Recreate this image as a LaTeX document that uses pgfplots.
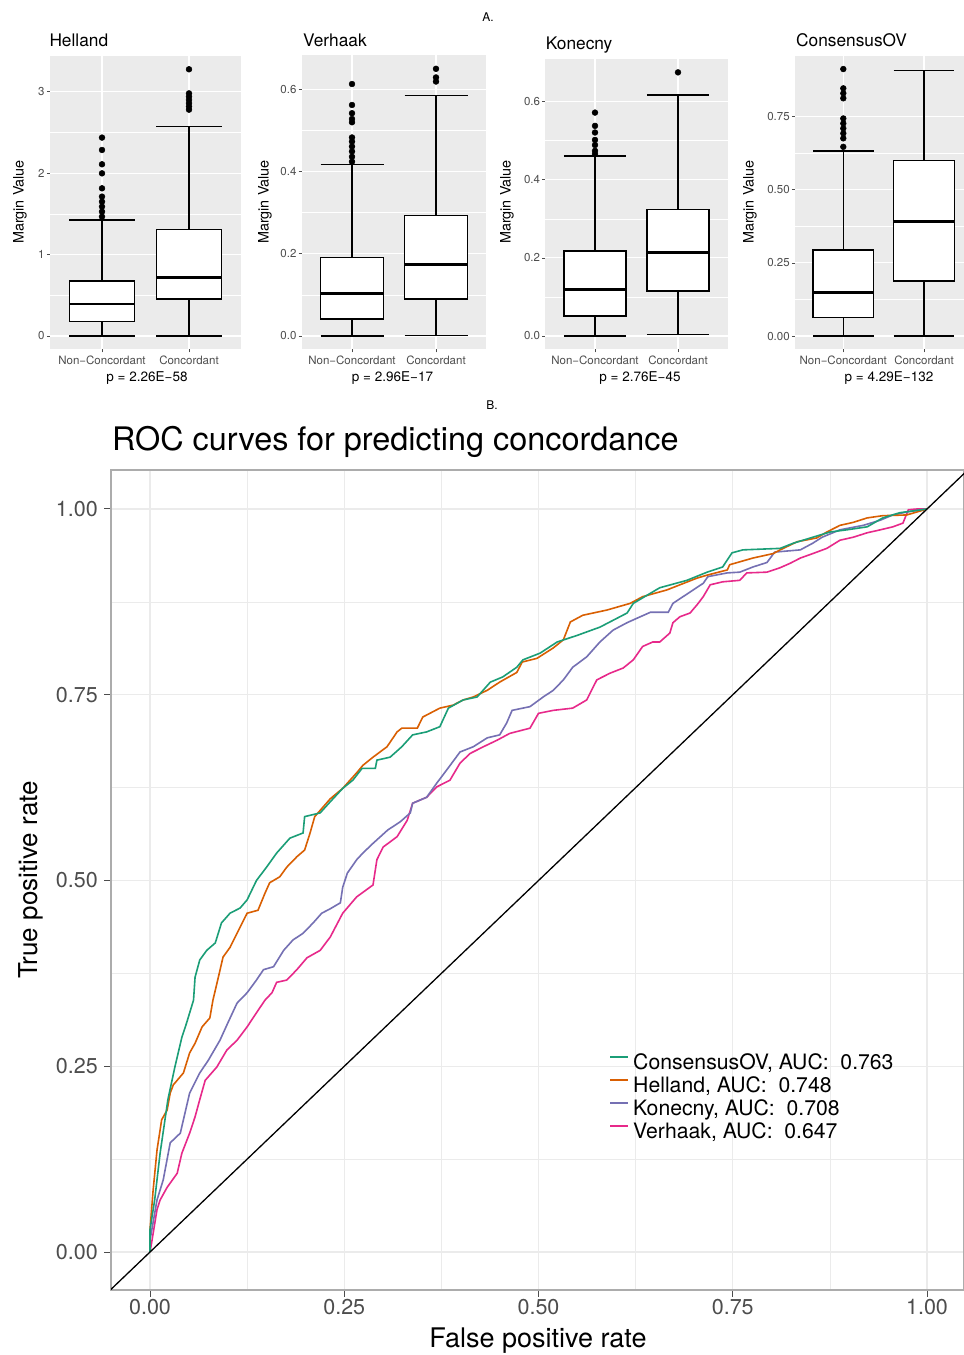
\documentclass[border=0pt]{standalone}
\usepackage{pgfplots}
\usepackage{pgfplotstable}
\pgfplotsset{compat=1.18}
\usepgfplotslibrary{statistics}
\usepackage{fontspec}
\setmainfont{TeX Gyre Heros}
\definecolor{colOV}{HTML}{1B9E77}
\definecolor{colHel}{HTML}{D95F02}
\definecolor{colKon}{HTML}{7570B3}
\definecolor{colVer}{HTML}{E7298A}
\definecolor{gpanel}{HTML}{EBEBEB}
\definecolor{gtext}{HTML}{4D4D4D}
\definecolor{ggrid}{HTML}{EBEBEB}

\pgfplotstableread{
x y
0 0
0.000 0.030
0.006 0.070
0.013 0.133
0.023 0.205
0.032 0.249
0.041 0.289
0.047 0.308
0.056 0.339
0.058 0.370
0.064 0.393
0.073 0.406
0.084 0.416
0.092 0.443
0.103 0.456
0.116 0.463
0.125 0.474
0.137 0.500
0.150 0.518
0.163 0.537
0.180 0.557
0.197 0.564
0.199 0.586
0.219 0.591
0.232 0.606
0.248 0.624
0.261 0.635
0.273 0.651
0.290 0.651
0.292 0.662
0.309 0.666
0.324 0.680
0.338 0.696
0.356 0.700
0.373 0.707
0.384 0.732
0.403 0.743
0.421 0.747
0.438 0.767
0.454 0.774
0.472 0.787
0.480 0.797
0.502 0.806
0.524 0.821
0.550 0.830
0.579 0.841
0.614 0.860
0.622 0.873
0.656 0.894
0.691 0.904
0.717 0.915
0.737 0.922
0.749 0.941
0.763 0.945
0.811 0.947
0.828 0.954
0.853 0.962
0.875 0.969
0.897 0.972
0.923 0.976
0.943 0.988
0.965 0.995
1 1
}\tcons

\pgfplotstableread{
x y
0 0
0.000 0.030
0.004 0.083
0.009 0.137
0.015 0.178
0.022 0.191
0.026 0.214
0.030 0.225
0.043 0.241
0.051 0.268
0.058 0.281
0.067 0.303
0.077 0.315
0.081 0.339
0.088 0.370
0.094 0.397
0.103 0.410
0.112 0.429
0.125 0.456
0.139 0.460
0.148 0.483
0.154 0.497
0.167 0.505
0.176 0.518
0.189 0.532
0.199 0.541
0.206 0.564
0.212 0.586
0.232 0.610
0.248 0.624
0.266 0.645
0.274 0.655
0.287 0.666
0.305 0.680
0.318 0.700
0.324 0.705
0.344 0.705
0.351 0.720
0.373 0.732
0.390 0.736
0.403 0.743
0.416 0.747
0.434 0.756
0.450 0.767
0.472 0.780
0.479 0.794
0.498 0.799
0.519 0.813
0.532 0.824
0.541 0.848
0.557 0.857
0.588 0.864
0.618 0.873
0.634 0.882
0.665 0.891
0.704 0.907
0.717 0.911
0.743 0.918
0.746 0.925
0.776 0.934
0.802 0.940
0.811 0.945
0.833 0.956
0.858 0.961
0.871 0.969
0.888 0.978
0.905 0.982
0.923 0.988
0.943 0.991
0.974 0.992
1 1
}\thell

\pgfplotstableread{
x y
0 0
0.000 0.016
0.009 0.070
0.017 0.097
0.026 0.147
0.039 0.160
0.051 0.214
0.064 0.241
0.075 0.258
0.090 0.285
0.100 0.308
0.112 0.335
0.125 0.349
0.137 0.366
0.146 0.380
0.159 0.384
0.172 0.406
0.184 0.420
0.197 0.429
0.210 0.443
0.221 0.456
0.232 0.462
0.245 0.470
0.248 0.491
0.254 0.510
0.266 0.528
0.274 0.537
0.287 0.550
0.306 0.568
0.322 0.579
0.335 0.591
0.338 0.604
0.356 0.612
0.369 0.631
0.382 0.649
0.399 0.673
0.416 0.680
0.434 0.692
0.450 0.696
0.459 0.712
0.466 0.729
0.489 0.734
0.506 0.747
0.519 0.756
0.532 0.770
0.544 0.787
0.562 0.801
0.579 0.821
0.596 0.837
0.614 0.847
0.631 0.855
0.644 0.861
0.667 0.861
0.673 0.873
0.686 0.882
0.699 0.891
0.712 0.900
0.718 0.909
0.743 0.914
0.759 0.915
0.776 0.922
0.794 0.928
0.804 0.942
0.837 0.945
0.853 0.954
0.865 0.962
0.888 0.972
0.918 0.978
0.940 0.985
0.956 0.992
0.974 0.996
1 1
}\tkone

\pgfplotstableread{
x y
0 0
0.002 0.012
0.009 0.057
0.013 0.070
0.022 0.087
0.035 0.106
0.041 0.133
0.051 0.160
0.058 0.182
0.064 0.205
0.071 0.231
0.086 0.249
0.099 0.272
0.112 0.285
0.125 0.303
0.137 0.322
0.148 0.339
0.157 0.349
0.163 0.363
0.176 0.366
0.189 0.380
0.202 0.396
0.219 0.406
0.232 0.424
0.248 0.456
0.266 0.478
0.287 0.494
0.292 0.528
0.300 0.545
0.318 0.559
0.331 0.581
0.338 0.604
0.356 0.612
0.369 0.626
0.386 0.635
0.399 0.658
0.412 0.671
0.429 0.680
0.447 0.689
0.463 0.698
0.489 0.705
0.500 0.725
0.519 0.729
0.544 0.732
0.562 0.743
0.575 0.770
0.592 0.779
0.609 0.786
0.622 0.797
0.634 0.815
0.647 0.821
0.656 0.821
0.669 0.833
0.673 0.847
0.682 0.855
0.695 0.860
0.704 0.871
0.712 0.882
0.721 0.898
0.737 0.902
0.759 0.904
0.768 0.914
0.794 0.915
0.811 0.921
0.824 0.927
0.837 0.934
0.853 0.940
0.871 0.947
0.888 0.958
0.905 0.962
0.923 0.968
0.940 0.972
0.956 0.976
0.969 0.981
0.976 0.999
0.987 1.000
1 1
}\tverh

\pgfplotsset{
  boxpanel/.style={
    scale only axis,
    anchor=south west,
    xmin=0.4, xmax=2.6,
    xtick={1,2},
    xticklabels={Non−Concordant,Concordant},
    axis background/.style={fill=gpanel},
    axis line style={draw=none},
    grid=both,
    major grid style={white, line width=1.1pt},
    minor grid style={white, line width=0.55pt},
    minor y tick num=1,
    minor tick length=0pt,
    tick align=outside,
    major tick length=3pt,
    tick style={gtext, line width=0.7pt},
    xtick pos=left, ytick pos=left,
    ticklabel style={font=\fontsize{11.5}{13}\selectfont, text=gtext},
    yticklabel style={inner sep=2pt},
    xticklabel style={inner sep=3.5pt},
    /pgf/number format/assume math mode=true,
    boxplot/draw direction=y,
    boxplot/box extend=0.75,
    boxplot/whisker extend=0.75,
    boxplot/every median/.style={line width=2.8pt},
  },
  bx/.style={black, line width=1.3pt, fill=white, mark=*, mark size=2.9pt, mark options={fill=black, line width=0.5pt}},
}

\begin{document}
\begin{tikzpicture}
\fill[white] (0pt,0pt) rectangle (964pt,1355pt);
\path[use as bounding box] (0pt,0pt) rectangle (964pt,1355pt);

% ---------- Helland ----------
\begin{axis}[boxpanel, at={(49.8pt,1005.65pt)}, width=191.4pt, height=293.4pt,
  ymin=-0.164, ymax=3.44, ytick={0,1,2,3}]
\addplot[bx, boxplot prepared={draw position=1, lower whisker=0, lower quartile=0.176,
  median=0.393, upper quartile=0.676, upper whisker=1.425}]
  table[row sep=\\, y index=0] {data\\ 2.437\\ 2.285\\ 2.109\\ 1.998\\ 1.814\\ 1.712\\ 1.650\\ 1.589\\ 1.527\\ 1.466\\};
\addplot[bx, boxplot prepared={draw position=2, lower whisker=0, lower quartile=0.455,
  median=0.721, upper quartile=1.31, upper whisker=2.576}]
  table[row sep=\\, y index=0] {data\\ 3.276\\ 2.98\\ 2.94\\ 2.90\\ 2.86\\ 2.82\\ 2.78\\};
\end{axis}

% ---------- Verhaak ----------
\begin{axis}[boxpanel, at={(301.6pt,1005.64pt)}, width=184.8pt, height=293.9pt,
  ymin=-0.0325, ymax=0.6825, ytick={0,0.2,0.4,0.6},
  yticklabel style={/pgf/number format/.cd, fixed, fixed zerofill, precision=1}]
\addplot[bx, boxplot prepared={draw position=1, lower whisker=0, lower quartile=0.0414,
  median=0.104, upper quartile=0.191, upper whisker=0.417}]
  table[row sep=\\, y index=0] {data\\ 0.613\\ 0.562\\ 0.542\\ 0.528\\ 0.520\\ 0.483\\ 0.473\\ 0.461\\ 0.449\\ 0.436\\ 0.424\\};
\addplot[bx, boxplot prepared={draw position=2, lower whisker=0.002, lower quartile=0.090,
  median=0.174, upper quartile=0.293, upper whisker=0.585}]
  table[row sep=\\, y index=0] {data\\ 0.650\\ 0.629\\ 0.619\\};
\end{axis}

% ---------- Konecny ----------
\begin{axis}[boxpanel, at={(545.2pt,1005.7pt)}, width=182.6pt, height=290.2pt,
  ymin=-0.034, ymax=0.709, ytick={0,0.2,0.4,0.6},
  yticklabel style={/pgf/number format/.cd, fixed, fixed zerofill, precision=1}]
\addplot[bx, boxplot prepared={draw position=1, lower whisker=0, lower quartile=0.0512,
  median=0.119, upper quartile=0.218, upper whisker=0.461}]
  table[row sep=\\, y index=0] {data\\ 0.572\\ 0.538\\ 0.521\\ 0.502\\ 0.489\\ 0.474\\ 0.466\\};
\addplot[bx, boxplot prepared={draw position=2, lower whisker=0.004, lower quartile=0.115,
  median=0.214, upper quartile=0.324, upper whisker=0.617}]
  table[row sep=\\, y index=0] {data\\ 0.675\\};
\end{axis}

% ---------- ConsensusOV ----------
\begin{axis}[boxpanel, at={(794.9pt,1005.6pt)}, width=177.5pt, height=293.8pt,
  ymin=-0.0457, ymax=0.959, ytick={0,0.25,0.5,0.75},
  yticklabel style={/pgf/number format/.cd, fixed, fixed zerofill, precision=2}]
\addplot[bx, boxplot prepared={draw position=1, lower whisker=0, lower quartile=0.0638,
  median=0.149, upper quartile=0.294, upper whisker=0.633}]
  table[row sep=\\, y index=0] {data\\ 0.913\\ 0.847\\ 0.830\\ 0.813\\ 0.744\\ 0.727\\ 0.710\\ 0.693\\ 0.676\\ 0.647\\};
\addplot[bx, boxplot prepared={draw position=2, lower whisker=0, lower quartile=0.188,
  median=0.391, upper quartile=0.600, upper whisker=0.907}]
  coordinates {};
\end{axis}

% panel titles, labels
\node[anchor=base west, inner sep=0pt, font=\fontsize{17.3}{20}\selectfont] at (49.3pt,1308.3pt) {Helland};
\node[anchor=base west, inner sep=0pt, font=\fontsize{17.3}{20}\selectfont] at (303pt,1308.3pt) {Verhaak};
\node[anchor=base west, inner sep=0pt, font=\fontsize{17.3}{20}\selectfont] at (545.7pt,1305.7pt) {Konecny};
\node[anchor=base west, inner sep=0pt, font=\fontsize{17.3}{20}\selectfont] at (796pt,1308.3pt) {ConsensusOV};
\foreach \xx in {20,265,507,750}{
  \node[rotate=90, font=\fontsize{14.4}{17}\selectfont] at (\xx pt,1153pt) {Margin Value};
}
\node[font=\fontsize{13.5}{16}\selectfont] at (147pt,977pt) {p = 2.26E−58};
\node[font=\fontsize{13.5}{16}\selectfont] at (392.5pt,977pt) {p = 2.96E−17};
\node[font=\fontsize{13.5}{16}\selectfont] at (640pt,977pt) {p = 2.76E−45};
\node[font=\fontsize{13.5}{16}\selectfont] at (889pt,977pt) {p = 4.29E−132};
\node[font=\fontsize{12}{14}\selectfont] at (488pt,1337.5pt) {A.};
\node[font=\fontsize{12}{14}\selectfont] at (492pt,950pt) {B.};

% ---------- ROC ----------
\begin{axis}[scale only axis, anchor=south west, at={(111pt,65pt)},
  width=853pt, height=820pt,
  xmin=-0.0502, xmax=1.0476, ymin=-0.0511, ymax=1.0525,
  xtick={0,0.25,0.5,0.75,1}, ytick={0,0.25,0.5,0.75,1},
  minor tick num=1, minor tick length=0pt,
  grid=both,
  major grid style={ggrid, line width=1.1pt},
  minor grid style={ggrid, line width=0.55pt},
  axis line style={gray!65, line width=1.4pt},
  tick align=outside, major tick length=7pt,
  tick style={gtext, line width=1pt},
  xtick pos=left, ytick pos=left,
  ticklabel style={font=\fontsize{21.5}{25}\selectfont, text=gtext},
  /pgf/number format/.cd, fixed, fixed zerofill, precision=2, assume math mode=true,
  /pgfplots/.cd,
  yticklabel style={inner sep=2pt, xshift=-4pt},
  xticklabel style={inner sep=2pt},
  legend style={at={(0.585,0.2875)}, anchor=north west, draw=none, fill=none,
    font=\fontsize{21.2}{25}\selectfont, inner sep=0pt, row sep=2.3pt,
    nodes={inner sep=0pt, text height=15.5pt, text depth=5pt}},
  legend cell align=left,
  /tikz/every odd column/.append style={column sep=5pt},
  legend image code/.code={\fill[#1] (0pt,6.5pt) rectangle (18pt,8.5pt);},
]
\addplot[colVer, line width=1.6pt, forget plot] table[x=x, y=y] {\tverh};
\addplot[colKon, line width=1.6pt, forget plot] table[x=x, y=y] {\tkone};
\addplot[colHel, line width=1.6pt, forget plot] table[x=x, y=y] {\thell};
\addplot[colOV, line width=1.6pt, forget plot] table[x=x, y=y] {\tcons};
\addplot[black, line width=1.3pt, forget plot] coordinates {(-0.1,-0.1) (1.1,1.1)};
\addlegendimage{fill=colOV, draw=none}
\addlegendentry{ConsensusOV, AUC:\ \ 0.763}
\addlegendimage{fill=colHel, draw=none}
\addlegendentry{Helland, AUC:\ \ 0.748}
\addlegendimage{fill=colKon, draw=none}
\addlegendentry{Konecny, AUC:\ \ 0.708}
\addlegendimage{fill=colVer, draw=none}
\addlegendentry{Verhaak, AUC:\ \ 0.647}
\end{axis}

\node[anchor=base west, inner sep=0pt, font=\fontsize{32.4}{38}\selectfont] at (112pt,904pt) {ROC curves for predicting concordance};
\node[anchor=base, inner sep=0pt, font=\fontsize{27}{32}\selectfont] at (538pt,8pt) {False positive rate};
\node[rotate=90, font=\fontsize{26}{30}\selectfont] at (31pt,475pt) {True positive rate};
\end{tikzpicture}
\end{document}
